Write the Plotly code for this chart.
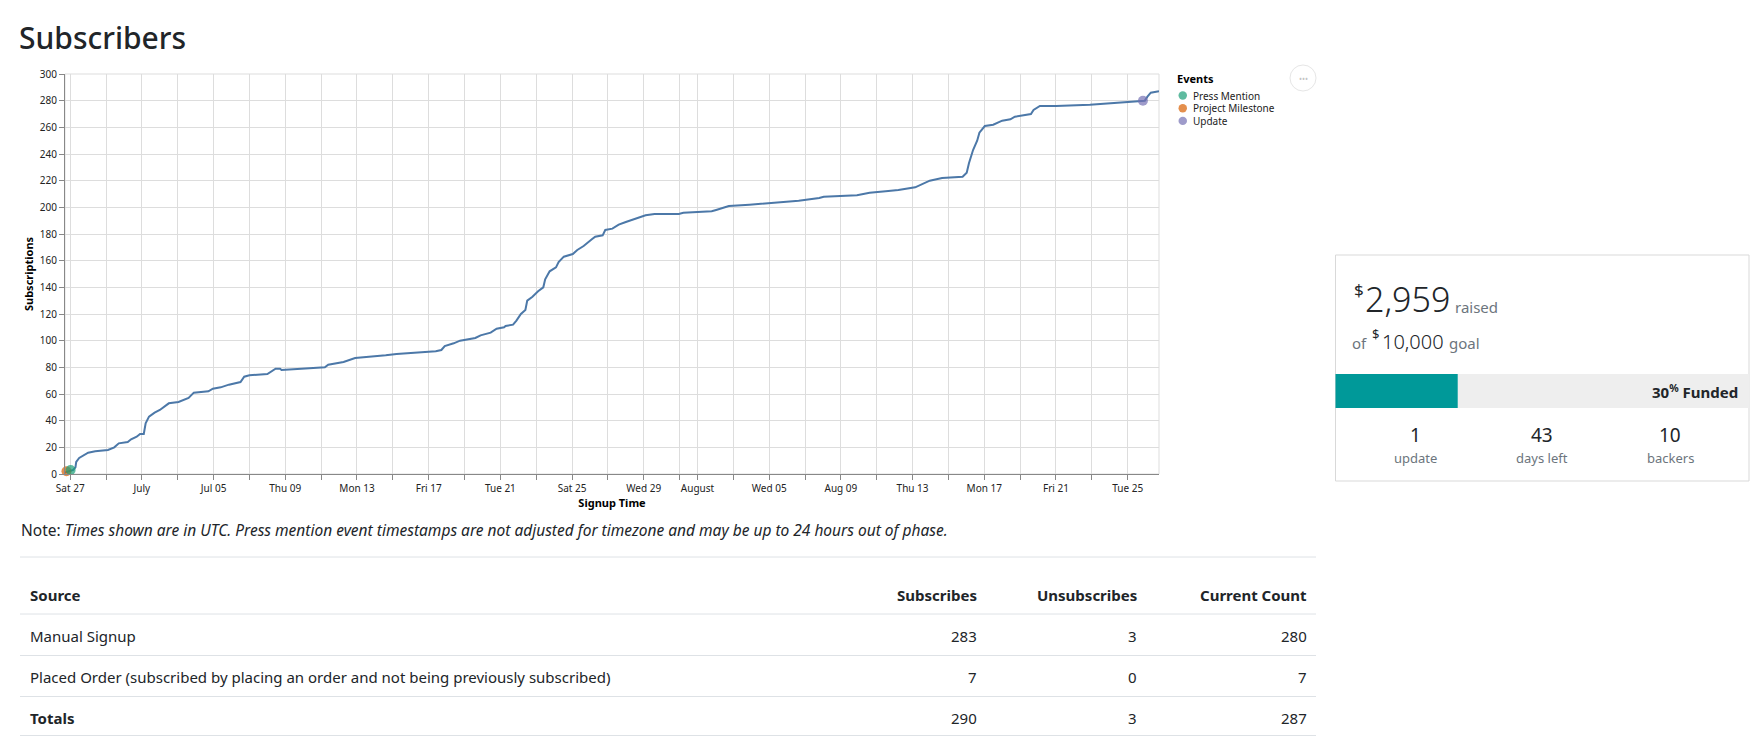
import plotly.graph_objects as go

# ----------------------------
# Data
# ----------------------------
signup_times = [
    "2020-06-26 17:00", "2020-06-27 04:00", "2020-06-27 07:00", "2020-06-27 08:00",
    "2020-06-27 12:00", "2020-06-27 18:00", "2020-06-28 00:00", "2020-06-28 09:30",
    "2020-06-29 02:30", "2020-06-29 11:00", "2020-06-29 17:00", "2020-06-30 05:00",
    "2020-06-30 09:30", "2020-06-30 17:00", "2020-06-30 21:30", "2020-07-01 02:30",
    "2020-07-01 05:00", "2020-07-01 09:30", "2020-07-01 17:00", "2020-07-02 00:00",
    "2020-07-02 07:00", "2020-07-02 12:00", "2020-07-03 01:00", "2020-07-03 14:30",
    "2020-07-03 21:30", "2020-07-04 17:00", "2020-07-04 23:00", "2020-07-05 09:30",
    "2020-07-05 20:30", "2020-07-06 12:00", "2020-07-06 17:00", "2020-07-07 00:00",
    "2020-07-08 00:00", "2020-07-08 06:00", "2020-07-08 11:00", "2020-07-08 17:00",
    "2020-07-08 19:00", "2020-07-09 21:30", "2020-07-11 05:00", "2020-07-11 09:30",
    "2020-07-12 06:00", "2020-07-12 21:30", "2020-07-13 23:00", "2020-07-14 14:30",
    "2020-07-15 05:00", "2020-07-16 12:00", "2020-07-17 09:30", "2020-07-17 17:00",
    "2020-07-17 21:30", "2020-07-18 09:30", "2020-07-18 18:00", "2020-07-19 14:30",
    "2020-07-19 21:30", "2020-07-20 11:00", "2020-07-20 19:00", "2020-07-21 05:00",
    "2020-07-21 07:00", "2020-07-21 17:00", "2020-07-21 21:30", "2020-07-22 03:30",
    "2020-07-22 09:30", "2020-07-22 12:00", "2020-07-22 19:00", "2020-07-23 02:30",
    "2020-07-23 09:30", "2020-07-23 12:00", "2020-07-23 18:00", "2020-07-24 02:30",
    "2020-07-24 06:00", "2020-07-24 13:00", "2020-07-25 01:00", "2020-07-25 07:00",
    "2020-07-25 15:30", "2020-07-26 02:30", "2020-07-26 07:00", "2020-07-26 17:00",
    "2020-07-26 20:30", "2020-07-27 06:00", "2020-07-27 14:30", "2020-07-28 00:00",
    "2020-07-28 12:00", "2020-07-28 21:30", "2020-07-29 02:30", "2020-07-29 14:30",
    "2020-07-30 23:00", "2020-07-31 05:00", "2020-08-01 19:00", "2020-08-02 01:00",
    "2020-08-02 18:00", "2020-08-03 21:30", "2020-08-04 19:00", "2020-08-05 18:00",
    "2020-08-06 15:30", "2020-08-07 19:00", "2020-08-08 01:00", "2020-08-09 21:30",
    "2020-08-10 14:30", "2020-08-11 12:00", "2020-08-12 05:00", "2020-08-13 03:30",
    "2020-08-13 14:30", "2020-08-13 23:00", "2020-08-14 15:30", "2020-08-15 19:00",
    "2020-08-16 00:30", "2020-08-16 03:30", "2020-08-16 09:00", "2020-08-16 14:30",
    "2020-08-16 17:30", "2020-08-17 00:45", "2020-08-17 12:00", "2020-08-18 00:00",
    "2020-08-18 11:00", "2020-08-18 17:00", "2020-08-19 14:30", "2020-08-19 18:00",
    "2020-08-20 02:30", "2020-08-21 00:00", "2020-08-22 21:30", "2020-08-24 23:00",
    "2020-08-25 17:00", "2020-08-25 23:00", "2020-08-26 02:30", "2020-08-26 07:00",
    "2020-08-26 18:00",
]
subscriptions = [
    1, 3, 5, 9, 12, 14, 16, 17, 18, 20, 23, 24, 26, 28, 30, 30,
    38, 43, 46, 48, 51, 53, 54, 57, 61, 62, 64, 65, 67, 69, 73, 74,
    75, 77, 79, 79, 78, 79, 80, 82, 84, 87, 88, 89, 90, 91, 92, 93,
    96, 98, 100, 102, 104, 106, 109, 110, 111, 112, 115, 120, 123, 130,
    133, 137, 140, 146, 152, 155, 159, 163, 165, 168, 171, 176, 178, 179,
    183, 184, 187, 189, 191, 193, 194, 195, 195, 196, 197, 198, 201, 202,
    203, 204, 205, 207, 208, 209, 211, 212, 213, 215, 218, 220, 222, 223,
    226, 233, 243, 250, 256, 261, 262, 265, 266, 268, 270, 273, 276, 276,
    277, 279, 280, 280, 283, 286, 287,
]

event_names = ["Project Milestone", "Press Mention", "Update"]
event_times = ["2020-06-26 19:00", "2020-06-27 00:30", "2020-08-25 20:30"]
event_counts = [2, 3, 280]

legend_names = ["Press Mention", "Project Milestone", "Update"]
legend_colors = ["#1b9e77", "#d95f02", "#7570b3"]

# every grid line / tick (every other one is labelled)
tick_dates = [
    "2020-06-27", "2020-06-29", "2020-07-01", "2020-07-03", "2020-07-05", "2020-07-07",
    "2020-07-09", "2020-07-11", "2020-07-13", "2020-07-15", "2020-07-17", "2020-07-19",
    "2020-07-21", "2020-07-23", "2020-07-25", "2020-07-27", "2020-07-29", "2020-07-31",
    "2020-08-01", "2020-08-03", "2020-08-05", "2020-08-07", "2020-08-09", "2020-08-11",
    "2020-08-13", "2020-08-15", "2020-08-17", "2020-08-19", "2020-08-21", "2020-08-23",
    "2020-08-25",
]
tick_labels = [
    "Sat 27", "July", "Jul 05", "Thu 09", "Mon 13", "Fri 17", "Tue 21", "Sat 25",
    "Wed 29", "August", "Wed 05", "Aug 09", "Thu 13", "Mon 17", "Fri 21", "Tue 25",
]

sources = [
    "Manual Signup",
    "Placed Order (subscribed by placing an order and not being previously subscribed)",
]
subscribes = [283, 7]
unsubscribes = [3, 0]
current_counts = [280, 7]

raised = 2959
goal = 10000
updates = 1
days_left = 43
backers = 10

# ----------------------------
# Page geometry helpers (page pixels -> paper coords)
# ----------------------------
W, H = 1743, 728   # the html body adds an 8px margin around the figure
FONT = "Segoe UI, Noto Sans, sans-serif"
TEXT = "#212529"
MUTED = "#6c757d"


def px(x):
    return (x - 8) / W


def py(y):
    return 1 - (y - 8) / H


fig = go.Figure()

# cumulative subscriptions line
fig.add_trace(go.Scatter(
    x=signup_times,
    y=subscriptions,
    mode="lines",
    line=dict(color="#4c78a8", width=2),
    name="Subscriptions",
    showlegend=False,
))

# event markers
for name, t, c in zip(event_names, event_times, event_counts):
    fig.add_trace(go.Scatter(
        x=[t],
        y=[c],
        mode="markers",
        marker=dict(size=10, color=legend_colors[legend_names.index(name)], opacity=0.7),
        name=name,
        showlegend=False,
        cliponaxis=False,
    ))


def label(x, y, s, size=15, color=TEXT, xanchor="left", weight="normal"):
    fig.add_annotation(
        x=px(x), y=py(y), xref="paper", yref="paper",
        text=s, showarrow=False, xanchor=xanchor, yanchor="middle",
        font=dict(family=FONT, size=size, color=color, weight=weight),
    )


def hline(x0, x1, y, color="#dee2e6", width=1):
    fig.add_shape(type="line", xref="paper", yref="paper",
                  x0=px(x0), x1=px(x1), y0=py(y), y1=py(y),
                  line=dict(color=color, width=width))


def box(x0, x1, y0, y1, fill, line_color=None):
    fig.add_shape(type="rect", xref="paper", yref="paper",
                  x0=px(x0), x1=px(x1), y0=py(y1), y1=py(y0),
                  fillcolor=fill,
                  line=dict(color=line_color or fill, width=1 if line_color else 0))


# plot frame (right edge)
fig.add_shape(type="rect", xref="paper", yref="paper",
              x0=px(65), x1=px(1159), y0=py(474), y1=py(74),
              line=dict(color="#dddddd", width=1), layer="below")

# ----------------------------
# Note under the chart
# ----------------------------
label(19, 530, "Note: <i>Times shown are in UTC. Press mention event timestamps are not "
      "adjusted for timezone and may be up to 24 hours out of phase.</i>", size=15.5)

# ----------------------------
# Legend (Events)
# ----------------------------
label(1175, 79, "<b>Events</b>", size=11, color="#000")
for i, (name, color) in enumerate(zip(legend_names, legend_colors)):
    yy = 95.5 + i * 12.7
    fig.add_shape(type="circle", xref="paper", yref="paper",
                  x0=px(1178.5), x1=px(1187), y0=py(yy + 4.2), y1=py(yy - 4.2),
                  fillcolor=color, opacity=0.7, line=dict(width=0))
    label(1191, yy, name, size=10, color="#222")

# actions button
fig.add_shape(type="circle", xref="paper", yref="paper",
              x0=px(1290), x1=px(1316), y0=py(91), y1=py(65),
              fillcolor="white", line=dict(color="#e6e6e6", width=1))
label(1303, 78, "•••", size=8, color="#c4c4c4", xanchor="center")

# ----------------------------
# Table
# ----------------------------
hline(20, 1316, 557)
label(28, 595, "<b>Source</b>")
label(979, 595, "<b>Subscribes</b>", xanchor="right")
label(1139, 595, "<b>Unsubscribes</b>", xanchor="right")
label(1309, 595, "<b>Current Count</b>", xanchor="right")
hline(20, 1316, 614)

rows = list(zip(sources, subscribes, unsubscribes, current_counts))
rows.append(("<b>Totals</b>", sum(subscribes), sum(unsubscribes), sum(current_counts)))
for i, (src, sub, uns, cur) in enumerate(rows):
    yy = 636 + i * 41
    label(28, yy, src)
    label(979, yy, str(sub), xanchor="right")
    label(1139, yy, str(uns), xanchor="right")
    label(1309, yy, str(cur), xanchor="right")
    hline(20, 1316, min(yy + 19.5, 735.5))

# ----------------------------
# Funding card
# ----------------------------
card_l, card_r = 1335.5, 1749
box(card_l, card_r, 255, 481, "white", "#d9d9d9")
label(1352, 289, "$", size=17)
label(1363, 299, f"{raised:,}", size=34, weight=300)
label(1453, 307, "raised", size=15, color=MUTED)
label(1350, 343, "of", size=15, color=MUTED)
label(1370, 334, "$", size=13)
label(1380, 342, f"{goal:,}", size=20, weight=300)
label(1447, 343, "goal", size=15, color=MUTED)

bar_split = card_l + (card_r - card_l) * raised / goal
box(card_l, bar_split, 374, 408, "#009999")
box(bar_split, card_r, 374, 408, "#eeeeee")
label(1740, 391, f"<b>{round(raised / goal * 100)}<sup>%</sup> Funded</b>",
      size=15, xanchor="right")

for cx, num, txt in [(1415, updates, "update"), (1542, days_left, "days left"),
                     (1670, backers, "backers")]:
    label(cx, 435, str(num), size=19, xanchor="center")
    label(cx, 458, txt, size=13, color=MUTED, xanchor="center")

# ----------------------------
# Layout
# ----------------------------
fig.update_layout(
    width=W,
    height=H,
    margin=dict(l=0, r=0, t=0, b=0),
    template="none",
    paper_bgcolor="white",
    plot_bgcolor="white",
    showlegend=False,
    font=dict(family=FONT, color=TEXT),
    title=dict(
        text="Subscribers",
        x=px(19), xref="paper", xanchor="left",
        y=py(38), yref="paper", yanchor="middle",
        font=dict(family=FONT, size=30, color=TEXT, weight=500),
    ),
    xaxis=dict(
        domain=[px(65), px(1159)],
        type="date",
        range=[min(signup_times + event_times), max(signup_times + event_times)],
        tickmode="array",
        tickvals=tick_dates[::2],
        ticktext=tick_labels,
        ticks="outside",
        ticklen=5,
        tickcolor="#888",
        showline=True,
        linecolor="#888",
        linewidth=1,
        showgrid=True,
        gridcolor="#dddddd",
        zeroline=False,
        minor=dict(
            tickmode="array",
            tickvals=tick_dates,
            ticks="outside",
            ticklen=5,
            tickcolor="#888",
            showgrid=True,
            gridcolor="#dddddd",
        ),
        tickfont=dict(size=10, color="#222"),
        title=dict(text="<b>Signup Time</b>", font=dict(size=11, color="#000"), standoff=3),
        automargin=False,
    ),
    yaxis=dict(
        domain=[py(474), py(74)],
        range=[0, 300],
        tick0=0,
        dtick=20,
        ticks="outside",
        ticklen=5,
        tickcolor="#888",
        showline=True,
        linecolor="#888",
        linewidth=1,
        showgrid=True,
        gridcolor="#dddddd",
        zeroline=False,
        tickfont=dict(size=10, color="#222"),
        title=dict(text="<b>Subscriptions</b>", font=dict(size=11, color="#000"), standoff=3),
        automargin=False,
    ),
)

fig.write_html("out.html")
